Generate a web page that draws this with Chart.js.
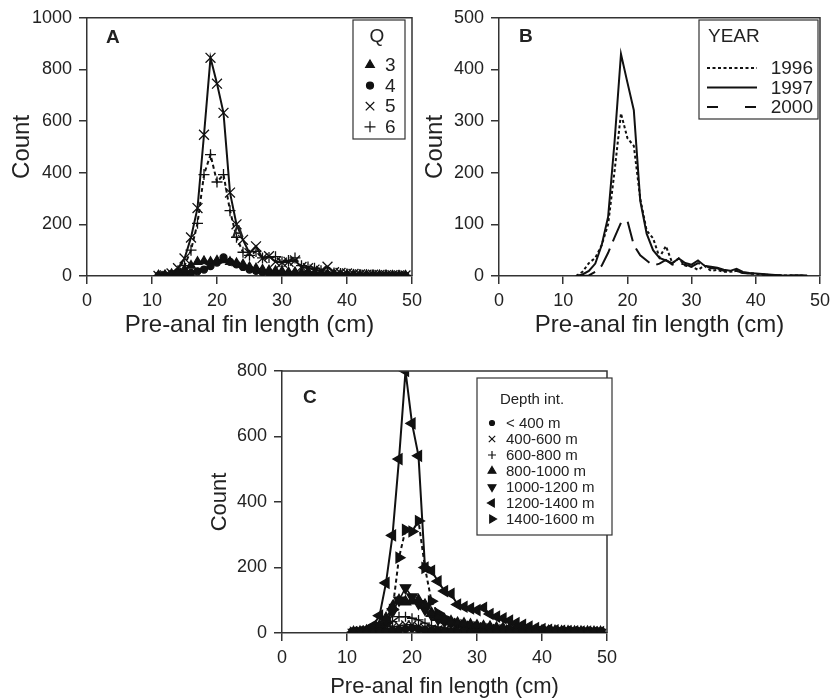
<!DOCTYPE html>
<html>
<head>
<meta charset="utf-8">
<script src="https://cdn.jsdelivr.net/npm/chart.js@4.4.1/dist/chart.umd.min.js"></script>
<style>
  body { margin: 0; background: #fff; width: 836px; height: 700px; position: relative; overflow: hidden; }
  canvas { position: absolute; }
</style>
</head>
<body>
<canvas id="chartB" width="416" height="345" style="left:420px;top:0"></canvas>
<canvas id="chartA" width="430" height="345" style="left:0;top:0"></canvas>
<canvas id="chartC" width="430" height="355" style="left:200px;top:345px"></canvas>
<script>
// Panel A: counts by quarter (Q)
const lengthsA = [11,12,13,14,15,16,17,18,19,20,21,22,23,24,25,26,27,28,29,30,31,32,33,34,35,36,37,38,39,40,41,42,43,44,45,46,47,48,49];
const q3 = [3,4,8,15,25,40,55,58,55,60,62,55,50,45,35,30,25,22,20,18,15,15,12,10,10,8,8,6,6,5,5,4,4,3,3,3,2,2,2];
const q4 = [1,2,3,5,8,12,18,25,38,52,72,55,45,35,25,20,15,12,10,10,8,8,6,6,5,5,4,4,3,3,3,2,2,2,2,1,1,1,1];
const q5 = [0,2,10,30,68,149,263,547,845,745,632,323,200,140,88,115,69,77,55,52,55,60,35,30,25,20,36,15,12,10,8,6,5,5,4,3,3,2,2];
const q6 = [0,1,5,20,40,100,204,393,470,364,393,253,150,92,80,95,70,72,75,55,60,70,40,35,30,20,15,12,10,8,6,5,4,4,3,3,2,2,2];

// Panel B: counts by year
const lengthsB = [12,13,14,15,16,17,18,19,20,21,22,23,24,25,26,27,28,29,30,31,32,33,34,35,36,37,38,39,40,41,42,43,44,45,46,47,48];
const y1996 = [0,8,25,35,60,100,203,315,267,252,150,88,73,36,58,25,34,20,18,12,20,10,12,8,8,10,6,5,4,3,2,2,1,1,1,1,0];
const y1997 = [0,3,10,24,60,115,260,430,375,321,146,82,50,35,30,25,34,25,22,30,20,18,16,12,10,14,8,6,5,4,3,2,1,1,1,1,1];
const y2000 = [0,0,1,8,20,45,75,103,107,60,40,30,20,24,31,22,25,22,18,25,20,15,15,10,8,10,6,5,4,3,2,2,1,1,1,1,0];

// Panel C: counts by depth interval
const lengthsC = [11,12,13,14,15,16,17,18,19,20,21,22,23,24,25,26,27,28,29,30,31,32,33,34,35,36,37,38,39,40,41,42,43,44,45,46,47,48,49];
const d0400 = [0,0,1,2,3,5,8,10,12,15,12,10,8,6,5,4,3,3,2,2,1,1,1,1,1,1,1,1,1,1,1,1,1,1,1,1,1,1,1];
const d0600 = [1,1,2,4,8,12,18,22,25,25,20,15,12,10,8,6,5,5,4,4,3,3,3,2,2,2,2,2,2,2,1,1,1,1,1,1,1,1,1];
const d0800 = [1,2,3,6,10,20,35,50,50,45,40,30,22,18,15,12,10,8,8,6,5,5,4,4,3,3,3,2,2,2,2,2,1,1,1,1,1,1,1];
const d1000 = [2,3,6,12,22,45,80,100,95,98,100,85,60,48,40,35,30,28,25,22,20,18,15,14,12,10,9,8,7,6,5,5,4,4,3,3,3,2,2];
const d1200 = [2,3,6,12,22,40,65,100,138,110,90,72,55,42,35,30,25,22,20,18,15,13,12,10,9,8,7,6,5,5,4,4,3,3,3,2,2,2,2];
const d1400 = [3,5,10,22,53,153,298,531,800,640,541,200,190,158,128,120,87,80,75,70,77,58,50,45,38,30,25,20,15,12,10,8,7,6,5,4,4,3,3];
const d1600 = [1,2,4,8,15,30,71,230,315,310,342,199,97,60,45,35,28,24,20,18,15,12,10,9,8,6,5,5,4,4,3,3,2,2,2,2,1,1,1];

const FONT = "'Liberation Sans', Arial, Helvetica, sans-serif";
const INK = '#222';
Chart.defaults.font.family = FONT;
Chart.defaults.color = INK;

function pts(xs, ys) {
    return xs.map((x, i) => ({ x: x, y: ys[i] }));
}

function series(label, xs, ys, style) {
    return Object.assign({
        label: label,
        data: pts(xs, ys),
        borderColor: '#111',
        backgroundColor: '#111',
        pointBorderColor: '#111',
        pointBackgroundColor: '#111',
        borderWidth: 1.5,
        pointBorderWidth: 1.3,
        pointRadius: 0,
        tension: 0
    }, style);
}

// Axes box, panel letter and legend box are drawn on top of the datasets
const panelPlugin = {
    id: 'panel',
    afterDatasetsDraw(chart, args, opts) {
        const { ctx, chartArea: a } = chart;
        ctx.save();
        ctx.strokeStyle = '#333';
        ctx.lineWidth = 1.5;
        ctx.beginPath();
        ctx.moveTo(a.left, a.top);
        ctx.lineTo(a.right, a.top);
        ctx.lineTo(a.right, a.bottom);
        ctx.stroke();

        ctx.fillStyle = INK;
        ctx.font = 'bold 19px ' + FONT;
        ctx.textBaseline = 'alphabetic';
        ctx.textAlign = 'left';
        ctx.fillText(opts.letter, opts.letterX, opts.letterY);

        // stray glyph printed inside panel A of the original figure
        if (opts.stray) {
            ctx.font = 'bold 17px ' + FONT;
            ctx.textAlign = 'center';
            ctx.fillText(opts.stray.text, opts.stray.x, opts.stray.y);
        }

        const lg = opts.legend;
        ctx.fillStyle = '#fff';
        ctx.fillRect(lg.x, lg.y, lg.w, lg.h);
        ctx.strokeStyle = '#333';
        ctx.lineWidth = 1.2;
        ctx.strokeRect(lg.x, lg.y, lg.w, lg.h);

        ctx.fillStyle = INK;
        ctx.textBaseline = 'middle';
        ctx.font = lg.titleSize + 'px ' + FONT;
        ctx.textAlign = lg.titleAlign;
        ctx.fillText(lg.title, lg.titleX, lg.titleY);

        ctx.font = lg.fontSize + 'px ' + FONT;
        chart.data.datasets.forEach((ds, i) => {
            const y = lg.rowY + i * lg.rowStep;
            ctx.strokeStyle = '#111';
            ctx.fillStyle = '#111';
            if (lg.lines) {
                ctx.lineWidth = ds.borderWidth;
                ctx.setLineDash(ds.legendDash || ds.borderDash || []);
                ctx.beginPath();
                ctx.moveTo(lg.lineX0, y);
                ctx.lineTo(lg.lineX1, y);
                ctx.stroke();
                ctx.setLineDash([]);
            } else {
                ctx.lineWidth = 1.2;
                Chart.helpers.drawPoint(ctx, {
                    pointStyle: ds.pointStyle,
                    rotation: ds.pointRotation || 0,
                    radius: lg.markerRadius[i],
                    borderWidth: 1.2
                }, lg.markerX, y);
            }
            ctx.fillStyle = INK;
            ctx.textAlign = lg.textAlign;
            ctx.fillText(ds.label, lg.textX, y + 1);
        });
        ctx.restore();
    }
};

function makeChart(id, cfg) {
    const canvas = document.getElementById(id);
    const H = canvas.height;
    return new Chart(canvas, {
        type: 'line',
        data: { datasets: cfg.datasets },
        plugins: [panelPlugin],
        options: {
            responsive: false,
            animation: false,
            events: [],
            layout: { padding: { left: 0, top: cfg.area.top, right: canvas.width - cfg.area.right, bottom: 0 } },
            plugins: {
                legend: { display: false },
                tooltip: { enabled: false },
                panel: cfg.panel
            },
            scales: {
                x: {
                    type: 'linear',
                    min: 0, max: 50,
                    ticks: { stepSize: 10, padding: 6, font: { size: 18 }, color: INK, callback: (v) => String(v) },
                    grid: { drawOnChartArea: false, drawTicks: true, tickLength: 8, color: '#333', lineWidth: 1.5 },
                    border: { color: '#333', width: 1.5 },
                    title: { display: true, text: 'Pre-anal fin length (cm)', color: INK,
                        font: { size: cfg.titleSize, lineHeight: 1.2 }, padding: { top: 0, bottom: cfg.xTitlePad } },
                    afterFit: (s) => { s.height = H - cfg.area.bottom; }
                },
                y: {
                    min: 0, max: cfg.yMax,
                    ticks: { stepSize: cfg.yStep, padding: 7, font: { size: 18 }, color: INK, callback: (v) => String(v) },
                    grid: { drawOnChartArea: false, drawTicks: true, tickLength: 8, color: '#333', lineWidth: 1.5 },
                    border: { color: '#333', width: 1.5 },
                    title: { display: true, text: 'Count', color: INK,
                        font: { size: cfg.titleSize, lineHeight: 1.2 }, padding: { top: cfg.yTitlePad, bottom: 0 } },
                    afterFit: (s) => { s.width = cfg.area.left; }
                }
            }
        }
    });
}

makeChart('chartA', {
    area: { left: 87, top: 14, right: 412, bottom: 276 },
    yMax: 1000, yStep: 200, titleSize: 24, xTitlePad: 5, yTitlePad: 7.6,
    datasets: [
        series('3', lengthsA, q3, { pointStyle: 'triangle', pointRadius: 5 }),
        series('4', lengthsA, q4, { pointStyle: 'circle', pointRadius: 3.5 }),
        series('5', lengthsA, q5, { pointStyle: 'crossRot', pointRadius: 7, borderWidth: 2 }),
        series('6', lengthsA, q6, { pointStyle: 'cross', pointRadius: 5.5, borderWidth: 2, borderDash: [4, 3] })
    ],
    panel: {
        letter: 'A', letterX: 106, letterY: 43,
        stray: { text: 'A', x: 238, y: 237 },
        legend: {
            x: 353, y: 20, w: 52, h: 119,
            title: 'Q', titleSize: 19, titleAlign: 'center', titleX: 377, titleY: 37,
            fontSize: 19, rowY: 65, rowStep: 20.6,
            markerX: 370, markerRadius: [5, 3.5, 6, 5.5],
            textX: 385, textAlign: 'left'
        }
    }
});

makeChart('chartB', {
    area: { left: 79, top: 14, right: 404, bottom: 276 },
    yMax: 500, yStep: 100, titleSize: 24, xTitlePad: 5, yTitlePad: 0.6,
    datasets: [
        series('1996', lengthsB, y1996, { borderWidth: 2, borderDash: [3, 2.5] }),
        series('1997', lengthsB, y1997, { borderWidth: 2 }),
        series('2000', lengthsB, y2000, { borderWidth: 2, borderDash: [20, 8], legendDash: [11, 27] })
    ],
    panel: {
        letter: 'B', letterX: 99, letterY: 42,
        legend: {
            x: 279, y: 20, w: 119, h: 99,
            title: 'YEAR', titleSize: 19, titleAlign: 'left', titleX: 288, titleY: 37,
            fontSize: 19, rowY: 68, rowStep: 19.5, lines: true,
            lineX0: 287, lineX1: 337,
            textX: 393, textAlign: 'right'
        }
    }
});

makeChart('chartC', {
    area: { left: 82, top: 26, right: 407, bottom: 288 },
    yMax: 800, yStep: 200, titleSize: 22, xTitlePad: 0, yTitlePad: 6.8,
    datasets: [
        series('< 400 m', lengthsC, d0400, { pointStyle: 'circle', pointRadius: 3.5 }),
        series('400-600 m', lengthsC, d0600, { pointStyle: 'crossRot', pointRadius: 6 }),
        series('600-800 m', lengthsC, d0800, { pointStyle: 'cross', pointRadius: 5 }),
        series('800-1000 m', lengthsC, d1000, { pointStyle: 'triangle', pointRadius: 6 }),
        series('1000-1200 m', lengthsC, d1200, { pointStyle: 'triangle', pointRotation: 180, pointRadius: 6 }),
        series('1200-1400 m', lengthsC, d1400, { pointStyle: 'triangle', pointRotation: -90, pointRadius: 6, borderWidth: 2 }),
        series('1400-1600 m', lengthsC, d1600, { pointStyle: 'triangle', pointRotation: 90, pointRadius: 6, borderWidth: 2, borderDash: [4, 3] })
    ],
    panel: {
        letter: 'C', letterX: 103, letterY: 58,
        legend: {
            x: 277, y: 33, w: 135, h: 157,
            title: 'Depth int.', titleSize: 15, titleAlign: 'center', titleX: 332, titleY: 55,
            fontSize: 15, rowY: 78, rowStep: 16,
            markerX: 292, markerRadius: [2.5, 4.5, 4, 4.5, 4.5, 4.5, 4.5],
            textX: 306, textAlign: 'left'
        }
    }
});
</script>
</body>
</html>
